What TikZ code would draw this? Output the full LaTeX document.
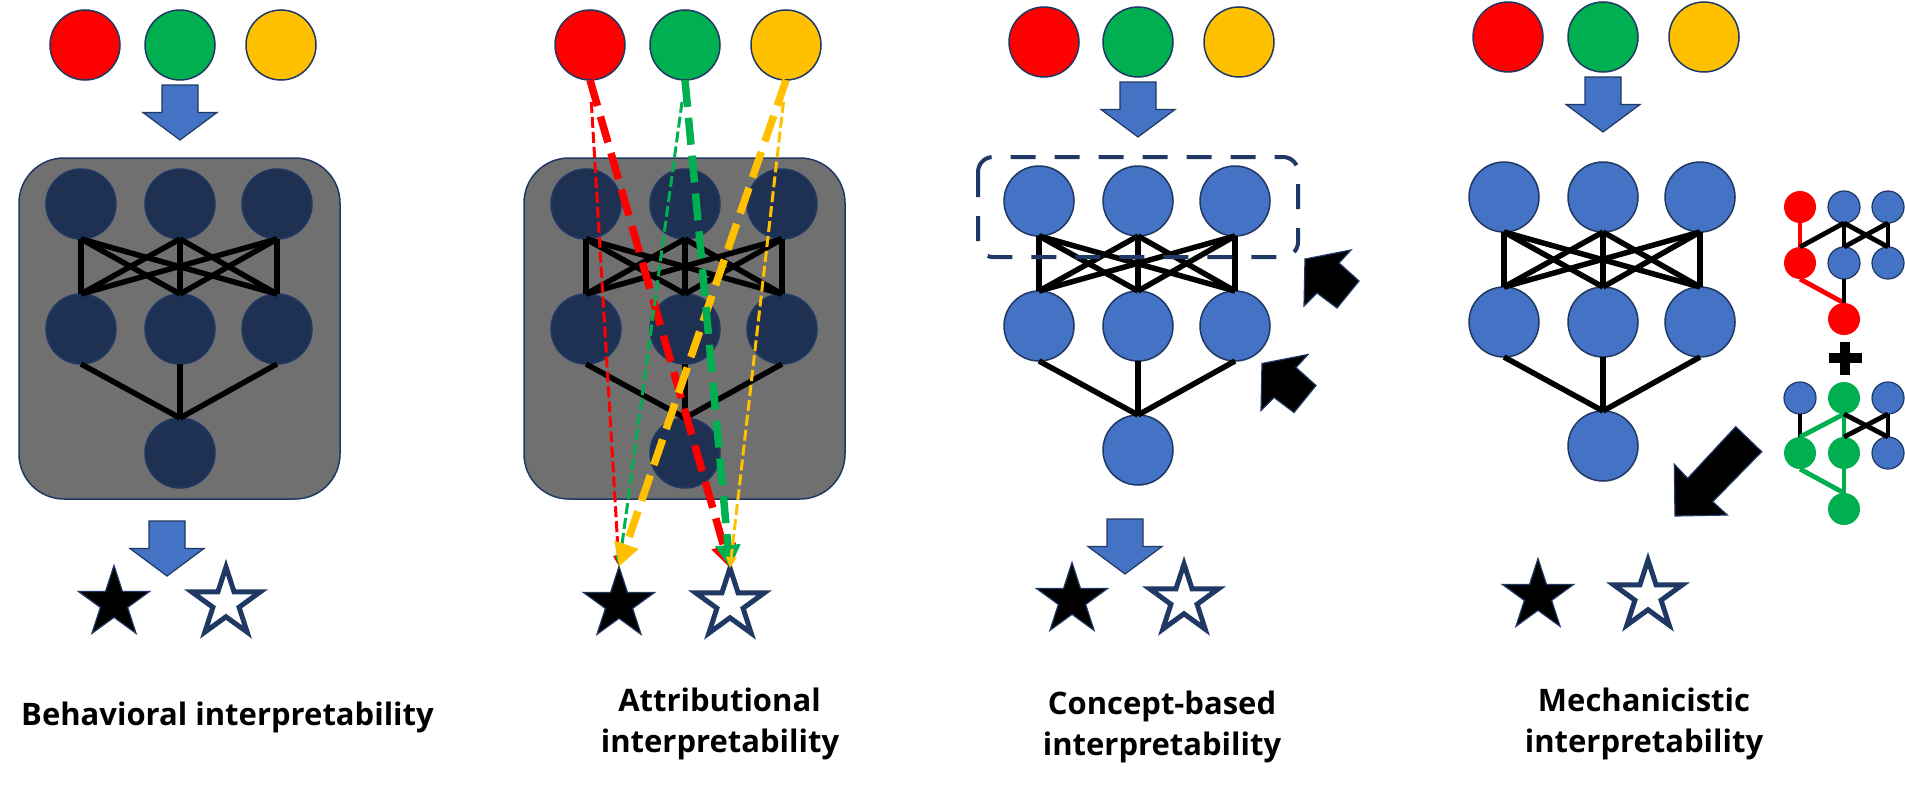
\documentclass[tikz,border=0pt]{standalone}
\usepackage{fontspec}
\setmainfont{Open Sans}
\usetikzlibrary{arrows.meta,shapes.geometric}
\definecolor{navy}{HTML}{1F3864}
\definecolor{darknode}{HTML}{1F3152}
\definecolor{bluenode}{HTML}{4472C4}
\definecolor{cred}{HTML}{FF0000}
\definecolor{cgreen}{HTML}{00B050}
\definecolor{cyellow}{HTML}{FFC000}
\definecolor{boxgray}{HTML}{707070}
\newcommand{\netw}[6]{%
  \node[#6] (#1a1) at (#2-99,#3) {};
  \node[#6] (#1a2) at (#2,#3) {};
  \node[#6] (#1a3) at (#2+97,#3) {};
  \node[#6] (#1b1) at (#2-99,#4) {};
  \node[#6] (#1b2) at (#2,#4) {};
  \node[#6] (#1b3) at (#2+97,#4) {};
  \node[#6] (#1c) at (#2,#5) {};
  \foreach \i in {1,2,3}{\foreach \j in {1,2,3}{\draw[conn] (#1a\i.south) -- (#1b\j.north);}}
  \foreach \i in {1,2,3}{\draw[conn] (#1b\i.south) -- (#1c.north);}
}
\newcommand{\inputs}[5]{%
  \node[inp,fill=cred] (#1r) at (#2,#5) {};
  \node[inp,fill=cgreen] (#1g) at (#3,#5) {};
  \node[inp,fill=cyellow] (#1y) at (#4,#5) {};
}
\begin{document}
\begin{tikzpicture}[x=1pt,y=-1pt,
  inp/.style={circle,minimum size=70pt,inner sep=0pt,outer sep=0pt,draw=navy,line width=1.5pt},
  darkn/.style={inp,fill=darknode},
  bluen/.style={inp,fill=bluenode},
  conn/.style={line width=5.5pt,black},
  graybox/.style={draw=navy,fill=boxgray,line width=1.5pt,rounded corners=45pt,minimum width=321pt,minimum height=341pt,inner sep=0pt},
  blackstar/.style={star,star points=5,star point ratio=2.618,minimum size=75pt,inner sep=0pt,outer sep=0pt,fill=black,draw=navy,line width=1.2pt},
  whitestar/.style={star,star points=5,star point ratio=2.618,minimum size=72pt,inner sep=0pt,outer sep=0pt,fill=white,draw=navy,line width=5pt},
  downarr/.pic={\draw[fill=bluenode,draw=navy,line width=1.2pt] (-18,0) -- (18,0) -- (18,27.5) -- (37,27.5) -- (0,55) -- (-37,27.5) -- (-18,27.5) -- cycle;},
  blockarrow/.style={fill=black,draw=navy,line width=1.2pt},
  thickarr/.style={line width=7.5pt,dash pattern=on 27pt off 11pt,-{Triangle[length=23pt,width=24pt]}},
  thinarr/.style={line width=3pt,dash pattern=on 11pt off 4pt,shorten <=22pt,-{Triangle[length=11pt,width=10pt]}},
  mini/.style={circle,minimum size=32pt,inner sep=0pt,outer sep=0pt},
  minib/.style={mini,fill=bluenode,draw=navy,line width=1.2pt},
  minir/.style={mini,fill=cred},
  minig/.style={mini,fill=cgreen},
  mline/.style={line width=4.8pt,black},
  lbl/.style={font=\fontsize{31}{38}\selectfont\bfseries,anchor=base,inner sep=0pt}
]
\fill[white] (0,0) rectangle (1905,792);
\useasboundingbox (0,0) rectangle (1905,792);

% ---------- Panel 1: behavioral ----------
\inputs{p1}{85}{180}{281}{45}
\pic at (180,85) {downarr};
\node[graybox] (box1) at (179.5,328.5) {};
\netw{p1}{180}{204}{329}{453}{darkn}
\pic at (167,521) {downarr};
\node[blackstar] (bs1) at (114,603) {};
\node[whitestar] (ws1) at (226,603) {};
\node[lbl] (t1) at (227.5,725) {Behavioral interpretability};

% ---------- Panel 2: attributional ----------
\inputs{p2}{590}{685}{786}{45}
\node[graybox] (box2) at (684.5,328.5) {};
\netw{p2}{685}{204}{329}{453}{darkn}
\node[blackstar] (bs2) at (619,604) {};
\node[whitestar] (ws2) at (730,604) {};
\draw[thinarr,cred] (p2r.south) -- (bs2.north);
\draw[thickarr,cred] (p2r.south) -- (ws2.north);
\draw[thinarr,cgreen] (p2g.south) -- (bs2.north);
\draw[thickarr,cyellow] (p2y.south) -- (bs2.north);
\draw[thickarr,cgreen] (p2g.south) -- (ws2.north);
\draw[thinarr,cyellow] (p2y.south) -- (ws2.north);
\node[lbl] (t2a) at (719.5,711) {Attributional};
\node[lbl] (t2b) at (720,752) {interpretability};

% ---------- Panel 3: concept-based ----------
\inputs{p3}{1044}{1138}{1239}{42}
\pic at (1138,82) {downarr};
\netw{p3}{1138}{201}{326}{450}{bluen}
\draw[navy,line width=4pt,dash pattern=on 25pt off 19pt,rounded corners=15pt] (978,157) rectangle (1298,257);
\draw[blockarrow] (1305,259) -- (1351,250) -- (1339,263) -- (1359,281) -- (1337,308) -- (1317,293) -- (1304,306) -- cycle;
\draw[blockarrow] (1262,363.5) -- (1308,354.5) -- (1296,367.5) -- (1316,385.5) -- (1294,412.5) -- (1274,397.5) -- (1261,410.5) -- cycle;
\pic at (1125,519) {downarr};
\node[blackstar] (bs3) at (1072,600) {};
\node[whitestar] (ws3) at (1184,600) {};
\node[lbl] (t3a) at (1162,714) {Concept-based};
\node[lbl] (t3b) at (1162,755) {interpretability};

% ---------- Panel 4: mechanistic ----------
\inputs{p4}{1508}{1603}{1704}{37}
\pic at (1603,77) {downarr};
\netw{p4}{1603}{197}{322}{446}{bluen}
\draw[blockarrow] (1675,516) -- (1674.3,464.3) -- (1687.7,478.3) -- (1735.7,426.7) -- (1761.7,451.7) -- (1712.7,501.7) -- (1727.3,515) -- cycle;
\node[blackstar] (bs4) at (1538,596) {};
\node[whitestar] (ws4) at (1648,596) {};
\node[lbl] (t4a) at (1644,711) {Mechanicistic};
\node[lbl] (t4b) at (1644,752) {interpretability};

% red circuit
\node[minir] (ra1) at (1800,207) {};
\node[minib] (ra2) at (1844,207) {};
\node[minib] (ra3) at (1888,207) {};
\node[minir] (rb1) at (1800,263) {};
\node[minib] (rb2) at (1844,263) {};
\node[minib] (rb3) at (1888,263) {};
\node[minir] (rc) at (1844,319) {};
\draw[mline,cred] (ra1.south) -- (rb1.north);
\draw[mline] (rb1.north) -- (ra2.south);
\draw[mline] (ra2.south) -- (rb2.north);
\draw[mline] (ra2.south) -- (rb3.north);
\draw[mline] (rb2.north) -- (ra3.south);
\draw[mline] (ra3.south) -- (rb3.north);
\draw[mline,cred] (rb1.south) -- (rc.north);
\draw[mline] (rb2.south) -- (rc.north);
% plus
\fill[black] (1828.5,353.3) rectangle (1861.5,363.3);
\fill[black] (1840.3,341.8) rectangle (1850.3,374.8);
% green circuit
\node[minib] (ga1) at (1800,398) {};
\node[minig] (ga2) at (1844,398) {};
\node[minib] (ga3) at (1888,398) {};
\node[minig] (gb1) at (1800,453) {};
\node[minig] (gb2) at (1844,453) {};
\node[minib] (gb3) at (1888,453) {};
\node[minig] (gc) at (1844,509) {};
\draw[mline] (ga1.south) -- (gb1.north);
\draw[mline,cgreen] (ga2.south) -- (gb1.north);
\draw[mline,cgreen] (ga2.south) -- (gb2.north);
\draw[mline] (ga2.south) -- (gb3.north);
\draw[mline] (gb2.north) -- (ga3.south);
\draw[mline] (ga3.south) -- (gb3.north);
\draw[mline,cgreen] (gb1.south) -- (gc.north);
\draw[mline,cgreen] (gb2.south) -- (gc.north);
\end{tikzpicture}
\end{document}
